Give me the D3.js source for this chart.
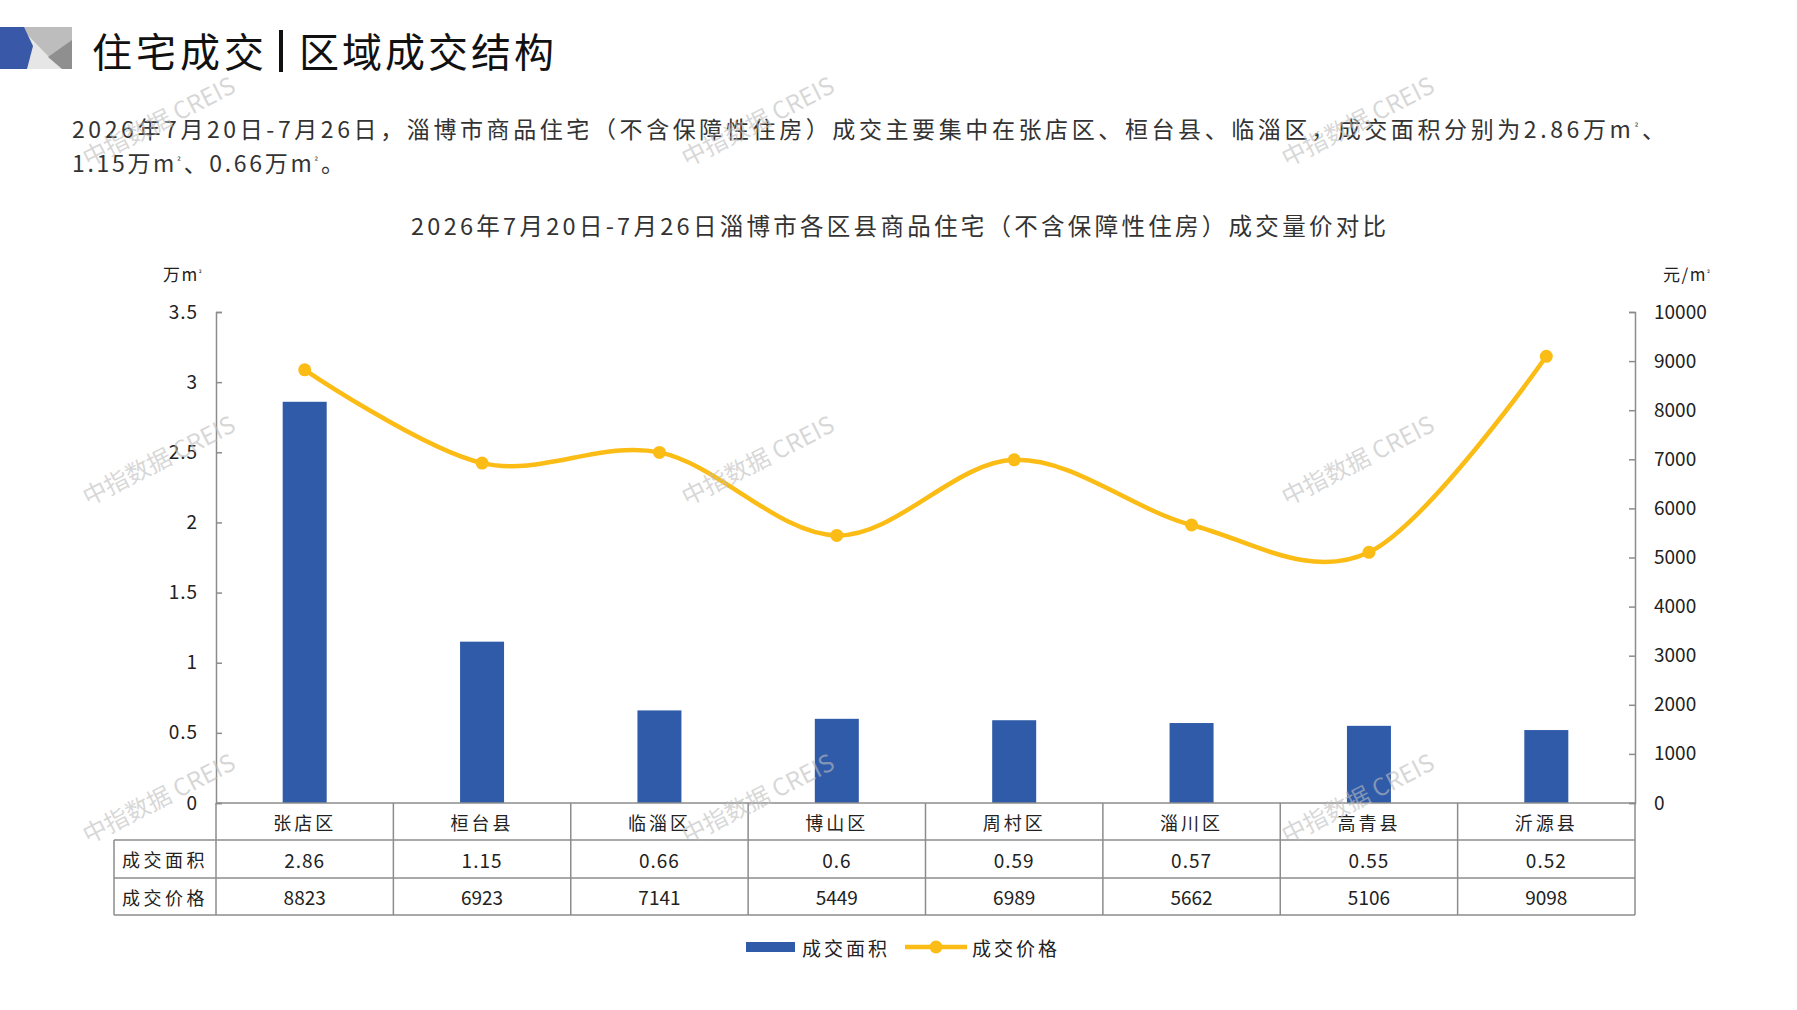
<!DOCTYPE html>
<html>
<head>
<meta charset="utf-8">
<script src="https://cdn.jsdelivr.net/npm/d3@7"></script>
<style>
  html, body { margin: 0; padding: 0; background: #ffffff; }
  svg { display: block; }
  text { font-family: "Noto Sans CJK SC", "Noto Sans", sans-serif; }
</style>
</head>
<body>
<svg id="chart" width="1797" height="1010"></svg>
<script>
// ---------------- data ----------------
const categories = ["张店区", "桓台县", "临淄区", "博山区", "周村区", "淄川区", "高青县", "沂源县"];
const areaValues = [2.86, 1.15, 0.66, 0.6, 0.59, 0.57, 0.55, 0.52];
const priceValues = [8823, 6923, 7141, 5449, 6989, 5662, 5106, 9098];
const areaTicks = [0, 0.5, 1, 1.5, 2, 2.5, 3, 3.5];
const priceTicks = [0, 1000, 2000, 3000, 4000, 5000, 6000, 7000, 8000, 9000, 10000];
const seriesNames = ["成交面积", "成交价格"];
const pageTitleLeft = "住宅成交";
const pageTitleRight = "区域成交结构";
const summaryLines = [
  "2026年7月20日-7月26日，淄博市商品住宅（不含保障性住房）成交主要集中在张店区、桓台县、临淄区，成交面积分别为2.86万m²、",
  "1.15万m²、0.66万m²。"
];
const chartTitle = "2026年7月20日-7月26日淄博市各区县商品住宅（不含保障性住房）成交量价对比";
const leftUnit = "万m²";
const rightUnit = "元/m²";
const watermarkText = "中指数据 CREIS";

// ---------------- layout ----------------
const svg = d3.select("#chart");
const plotLeft = 216, plotRight = 1635, plotTop = 312, plotBottom = 803;
const barColor = "#2F5BA9";
const lineColor = "#FBBC16";
const axisColor = "#8c8c8c";
const textColor = "#222222";

// write a string into a text node, rendering "²" as a small superscript
function writeWithSup(sel, str) {
  const parts = str.split("²");
  parts.forEach((p, i) => {
    if (p.length) {
      const t = sel.append("tspan").text(p);
      if (i > 0) t.attr("dy", "0.315em");
    }
    if (i < parts.length - 1) {
      sel.append("tspan").attr("font-size", "0.42em").attr("dy", "-0.75em").text("²");
    }
  });
  return sel;
}

// header decoration
const hdr = svg.append("g");
hdr.append("rect").attr("x", 0).attr("y", 27).attr("width", 72).attr("height", 42).attr("fill", "#e6e6e6");
hdr.append("polygon").attr("points", "20,27 72,27 72,42 50,58").attr("fill", "#bdbdbd");
hdr.append("polygon").attr("points", "72,40 72,69 62,69 48,57").attr("fill", "#8f8f8f");
hdr.append("polygon").attr("points", "0,27 24,27 33,46 27,69 0,69").attr("fill", "#3A58A8");

// page title
svg.append("text").attr("x", 92).attr("y", 50).attr("dominant-baseline", "central")
  .attr("font-size", 40).attr("letter-spacing", 4).attr("fill", "#111")
  .text(pageTitleLeft);
svg.append("rect").attr("x", 279).attr("y", 30).attr("width", 4).attr("height", 42).attr("fill", "#111");
svg.append("text").attr("x", 299).attr("y", 50).attr("dominant-baseline", "central")
  .attr("font-size", 40).attr("letter-spacing", 3).attr("fill", "#111")
  .text(pageTitleRight);

// summary paragraph
writeWithSup(svg.append("text").attr("x", 72).attr("y", 138)
  .attr("font-size", 23).attr("fill", "#333")
  .attr("textLength", 1593).attr("lengthAdjust", "spacing"), summaryLines[0]);
writeWithSup(svg.append("text").attr("x", 72).attr("y", 172)
  .attr("font-size", 23).attr("fill", "#333")
  .attr("textLength", 272).attr("lengthAdjust", "spacing"), summaryLines[1]);

// chart title
svg.append("text").attr("x", 411).attr("y", 225).attr("dominant-baseline", "central")
  .attr("font-size", 23.5).attr("fill", "#333")
  .attr("textLength", 975).attr("lengthAdjust", "spacing")
  .text(chartTitle);

// scales
const x = d3.scaleBand().domain(categories).range([plotLeft, plotRight]).padding(0);
const yArea = d3.scaleLinear().domain([0, 3.5]).range([plotBottom, plotTop]);
const yPrice = d3.scaleLinear().domain([0, 10000]).range([plotBottom, plotTop]);
const cx = c => x(c) + x.bandwidth() / 2;
const barW = 44;

// axes
const leftAxis = d3.axisLeft(yArea).tickValues(areaTicks).tickSizeInner(-6).tickSizeOuter(-6).tickPadding(18)
  .tickFormat(d => String(d));
const gL = svg.append("g").attr("transform", `translate(${plotLeft},0)`).call(leftAxis);
const rightAxis = d3.axisRight(yPrice).tickValues(priceTicks).tickSizeInner(-6).tickSizeOuter(-6).tickPadding(19)
  .tickFormat(d => String(d));
const gR = svg.append("g").attr("transform", `translate(${plotRight},0)`).call(rightAxis);
[gL, gR].forEach(g => {
  g.select(".domain").attr("stroke", axisColor).attr("stroke-width", 1.5);
  g.selectAll(".tick line").attr("stroke", axisColor).attr("stroke-width", 1.5);
  g.selectAll(".tick text").attr("font-size", 19).attr("fill", textColor)
    .attr("font-family", "'Noto Sans CJK SC', sans-serif");
});
gL.selectAll(".tick text").attr("letter-spacing", 1);

// unit labels
writeWithSup(svg.append("text").attr("x", 163).attr("y", 281)
  .attr("font-size", 17).attr("letter-spacing", 1.5).attr("fill", textColor), leftUnit);
writeWithSup(svg.append("text").attr("x", 1663).attr("y", 281)
  .attr("font-size", 17).attr("letter-spacing", 1.5).attr("fill", textColor), rightUnit);

// bars
svg.append("g").selectAll("rect").data(categories).join("rect")
  .attr("x", (d) => cx(d) - barW / 2)
  .attr("y", (d, i) => yArea(areaValues[i]))
  .attr("width", barW)
  .attr("height", (d, i) => plotBottom - yArea(areaValues[i]))
  .attr("fill", barColor);

// line
const pts = categories.map((c, i) => [cx(c), yPrice(priceValues[i])]);
const lineGen = d3.line().curve(d3.curveCatmullRom.alpha(0));
svg.append("path").attr("d", lineGen(pts)).attr("fill", "none")
  .attr("stroke", lineColor).attr("stroke-width", 4.5).attr("stroke-linecap", "round");
svg.append("g").selectAll("circle").data(pts).join("circle")
  .attr("cx", d => d[0]).attr("cy", d => d[1]).attr("r", 6.5).attr("fill", lineColor);

// data table
const tableLeft = 114;
const rowTops = [plotBottom, 840, 878, 915];
const tbl = svg.append("g").attr("stroke", axisColor).attr("stroke-width", 1.5);
tbl.append("line").attr("x1", plotLeft).attr("x2", plotRight).attr("y1", rowTops[0]).attr("y2", rowTops[0]);
for (let r = 1; r < rowTops.length; r++) {
  tbl.append("line").attr("x1", tableLeft).attr("x2", plotRight).attr("y1", rowTops[r]).attr("y2", rowTops[r]);
}
tbl.append("line").attr("x1", tableLeft).attr("x2", tableLeft).attr("y1", rowTops[1]).attr("y2", rowTops[3]);
categories.forEach(c => {
  tbl.append("line").attr("x1", x(c)).attr("x2", x(c)).attr("y1", rowTops[0]).attr("y2", rowTops[3]);
});
tbl.append("line").attr("x1", plotRight).attr("x2", plotRight).attr("y1", rowTops[0]).attr("y2", rowTops[3]);

const rowCenter = r => (rowTops[r] + rowTops[r + 1]) / 2;
svg.append("g").selectAll("text").data(categories).join("text")
  .attr("x", d => cx(d)).attr("y", rowCenter(0)).attr("text-anchor", "middle")
  .attr("dominant-baseline", "central").attr("font-size", 18).attr("letter-spacing", 3)
  .attr("fill", textColor).text(d => d);
svg.append("g").selectAll("text").data(categories).join("text")
  .attr("x", d => cx(d)).attr("y", rowCenter(1)).attr("text-anchor", "middle")
  .attr("dominant-baseline", "central").attr("font-size", 19).attr("letter-spacing", 1)
  .attr("fill", textColor).text((d, i) => String(areaValues[i]));
svg.append("g").selectAll("text").data(categories).join("text")
  .attr("x", d => cx(d)).attr("y", rowCenter(2)).attr("text-anchor", "middle")
  .attr("dominant-baseline", "central").attr("font-size", 19)
  .attr("fill", textColor).text((d, i) => String(priceValues[i]));
seriesNames.forEach((n, r) => {
  svg.append("text").attr("x", (tableLeft + plotLeft) / 2).attr("y", rowCenter(r + 1))
    .attr("text-anchor", "middle").attr("dominant-baseline", "central")
    .attr("font-size", 18).attr("letter-spacing", 3.5).attr("fill", textColor).text(n);
});

// legend
const lg = svg.append("g");
lg.append("rect").attr("x", 746).attr("y", 942).attr("width", 49).attr("height", 10).attr("fill", barColor);
lg.append("text").attr("x", 802).attr("y", 947).attr("dominant-baseline", "central")
  .attr("font-size", 19).attr("letter-spacing", 3).attr("fill", textColor).text(seriesNames[0]);
lg.append("line").attr("x1", 905).attr("x2", 967).attr("y1", 947).attr("y2", 947)
  .attr("stroke", lineColor).attr("stroke-width", 4.5);
lg.append("circle").attr("cx", 936).attr("cy", 947).attr("r", 6.5).attr("fill", lineColor);
lg.append("text").attr("x", 972).attr("y", 947).attr("dominant-baseline", "central")
  .attr("font-size", 19).attr("letter-spacing", 3).attr("fill", textColor).text(seriesNames[1]);

// watermarks
const wmX = [158, 757, 1357], wmY = [120, 459, 797];
const wm = svg.append("g");
wmY.forEach(yy => wmX.forEach(xx => {
  wm.append("text").attr("transform", `translate(${xx},${yy}) rotate(-27)`)
    .attr("text-anchor", "middle").attr("dominant-baseline", "central")
    .attr("font-size", 24).attr("fill", "#bdbdbd").attr("fill-opacity", 0.6)
    .text(watermarkText);
}));
</script>
</body>
</html>
